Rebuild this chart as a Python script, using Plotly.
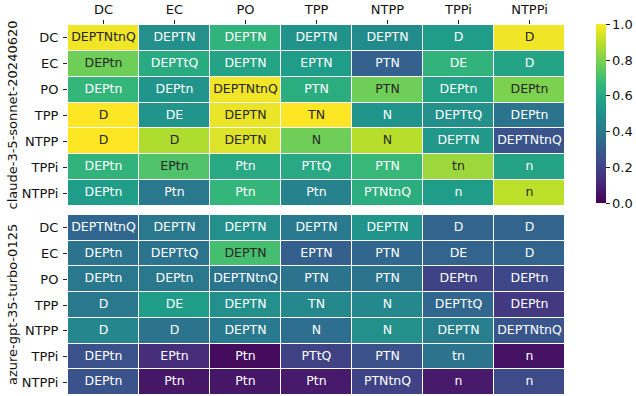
import plotly.graph_objects as go

relations = ["DC", "EC", "PO", "TPP", "NTPP", "TPPi", "NTPPi"]

cell_labels = [
    ["DEPTNtnQ", "DEPTN", "DEPTN", "DEPTN", "DEPTN", "D", "D"],
    ["DEPtn", "DEPTtQ", "DEPTN", "EPTN", "PTN", "DE", "D"],
    ["DEPtn", "DEPtn", "DEPTNtnQ", "PTN", "PTN", "DEPtn", "DEPtn"],
    ["D", "DE", "DEPTN", "TN", "N", "DEPTtQ", "DEPtn"],
    ["D", "D", "DEPTN", "N", "N", "DEPTN", "DEPTNtnQ"],
    ["DEPtn", "EPtn", "Ptn", "PTtQ", "PTN", "tn", "n"],
    ["DEPtn", "Ptn", "Ptn", "Ptn", "PTNtnQ", "n", "n"],
]

claude_values = [
    [0.98, 0.50, 0.65, 0.51, 0.48, 0.55, 0.98],
    [0.78, 0.61, 0.58, 0.55, 0.31, 0.65, 0.58],
    [0.66, 0.52, 0.98, 0.62, 0.78, 0.57, 0.80],
    [1.00, 0.52, 0.97, 1.00, 0.52, 0.50, 0.38],
    [1.00, 0.88, 0.95, 0.78, 0.89, 0.53, 0.26],
    [0.65, 0.72, 0.60, 0.60, 0.67, 0.85, 0.58],
    [0.55, 0.40, 0.66, 0.45, 0.62, 0.55, 0.90],
]

azure_values = [
    [0.33, 0.40, 0.50, 0.41, 0.52, 0.32, 0.32],
    [0.38, 0.38, 0.70, 0.30, 0.33, 0.32, 0.32],
    [0.40, 0.40, 0.38, 0.38, 0.38, 0.20, 0.22],
    [0.40, 0.55, 0.50, 0.47, 0.47, 0.33, 0.17],
    [0.46, 0.38, 0.41, 0.36, 0.50, 0.43, 0.27],
    [0.25, 0.13, 0.03, 0.20, 0.25, 0.38, 0.05],
    [0.26, 0.06, 0.06, 0.07, 0.20, 0.07, 0.23],
]

model_names = ["claude-3-5-sonnet-20240620", "azure-gpt-35-turbo-0125"]
colorbar_ticks = [0.0, 0.2, 0.4, 0.6, 0.8, 1.0]

FONT = "DejaVu Sans"
W, H = 636, 396
L, R, T, B = 68, 71, 25, 1
ph = H - T - B
pw = W - L - R

fig = go.Figure()

panels = [(claude_values, "x", "y"), (azure_values, "x2", "y2")]
for k, (vals, xa, ya) in enumerate(panels):
    fig.add_trace(go.Heatmap(
        z=vals, x=relations, y=relations, coloraxis="coloraxis",
        xgap=1, ygap=1, xaxis=xa, yaxis=ya, hoverinfo="skip",
    ))
    xs, ys, txt, cols = [], [], [], []
    for i, r in enumerate(relations):
        for j, c in enumerate(relations):
            xs.append(c)
            ys.append(r)
            txt.append(cell_labels[i][j])
            cols.append("#262626" if vals[i][j] > 0.69 else "#ffffff")
    fig.add_trace(go.Scatter(
        x=xs, y=ys, text=txt, mode="text", xaxis=xa, yaxis=ya,
        textfont=dict(family=FONT, size=12.5, color=cols),
        showlegend=False, hoverinfo="skip", cliponaxis=False,
    ))

top_dom = [1 - 181 / ph, 1]
bot_dom = [0, 180 / ph]

axis_common = dict(
    type="category", categoryorder="array", categoryarray=relations,
    showgrid=False, zeroline=False, showline=False, automargin=False,
    ticks="outside", ticklen=4, tickwidth=1, tickcolor="#222",
    tickfont=dict(family=FONT, size=13, color="#111"),
)

fig.update_layout(
    width=W, height=H,
    margin=dict(l=L, r=R, t=T, b=B, autoexpand=False),
    paper_bgcolor="white", plot_bgcolor="white",
    font=dict(family=FONT, size=13, color="#111"),
    showlegend=False,
    coloraxis=dict(
        colorscale="Viridis", cmin=0, cmax=1,
        colorbar=dict(
            xref="container", yref="container",
            x=596 / W, xanchor="left",
            y=1 - 26 / H, yanchor="top", len=179 / ph, lenmode="fraction",
            thickness=10, outlinewidth=0, xpad=0, ypad=0,
            tickmode="array",
            tickvals=colorbar_ticks, ticktext=[f"{v:.1f}" for v in colorbar_ticks],
            ticks="outside", ticklen=4, tickcolor="#222",
            tickfont=dict(family=FONT, size=13, color="#111"),
        ),
    ),
    xaxis=dict(axis_common, domain=[0, 1], side="top", anchor="y", ticklabelstandoff=1),
    yaxis=dict(axis_common, domain=top_dom, autorange="reversed", anchor="x",
               ticklabelstandoff=2),
    xaxis2=dict(axis_common, domain=[0, 1], anchor="y2", showticklabels=False, ticks=""),
    yaxis2=dict(axis_common, domain=bot_dom, autorange="reversed", anchor="x2",
                ticklabelstandoff=2),
)

for name, dom in zip(model_names, [top_dom, bot_dom]):
    fig.add_annotation(
        text=name, xref="paper", yref="paper",
        x=(12 - L) / pw, y=(dom[0] + dom[1]) / 2,
        xanchor="center", yanchor="middle", textangle=-90, showarrow=False,
        font=dict(family=FONT, size=13, color="#111"),
    )

fig.write_html(
    "out.html",
    config={"displayModeBar": False},
    post_script="document.body.style.margin='0';document.body.style.overflow='hidden';",
)
